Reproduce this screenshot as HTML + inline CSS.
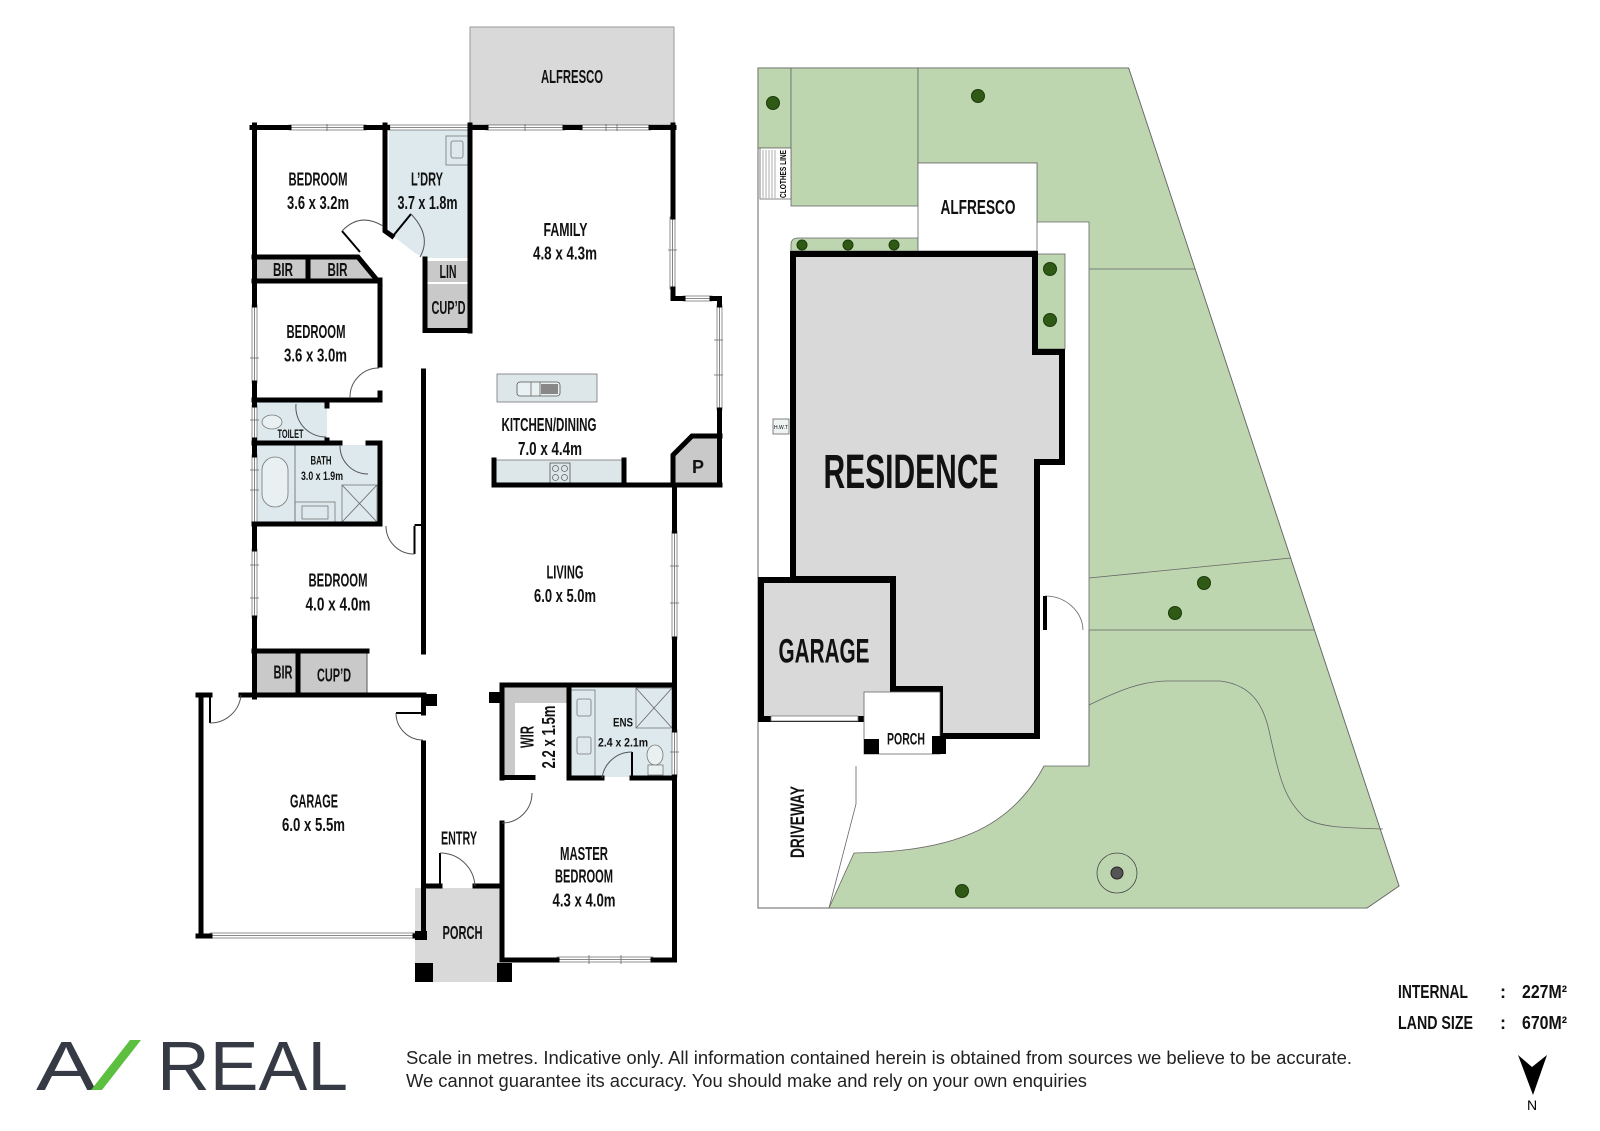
<!DOCTYPE html>
<html><head><meta charset="utf-8">
<style>
html,body{margin:0;padding:0;background:#fff;}
svg{display:block;}
.t{font-family:"Liberation Sans Narrow","Liberation Sans",sans-serif;font-weight:bold;font-size:18px;text-anchor:middle;fill:#111;}
.s{font-size:12px;}
.k{stroke:#000;stroke-width:5;stroke-linecap:square;fill:none;}
.th{stroke:#000;stroke-width:2;fill:none;}
.tn{stroke:#555;stroke-width:1;fill:none;}
.w{fill:#fff;stroke:#777;stroke-width:.8;}
.g{fill:#c9c9c9;}
.b{fill:#dde9ec;}
.ln{stroke:#666;stroke-width:.8;fill:none;}
.tr{fill:#2f5a16;stroke:#1d3a0c;stroke-width:1;}
</style></head>
<body>
<svg width="1600" height="1131" viewBox="0 0 1600 1131" xmlns="http://www.w3.org/2000/svg">

<!-- ============ FLOOR PLAN ============ -->
<rect x="470" y="27" width="204" height="98" fill="#d9d9d9" stroke="#999" stroke-width="1"/>
<polygon class="b" points="389,130 468,130 468,258 425,258 415,253 393,236 389,232"/>
<rect class="g" x="427" y="261" width="41" height="21"/>
<rect class="g" x="427" y="284" width="41" height="45"/>
<rect x="446" y="136" width="22" height="29" fill="#dde9ec" stroke="#777" stroke-width=".8"/>
<rect x="451" y="141" width="12" height="17" fill="none" stroke="#777" stroke-width=".8" rx="2"/>
<rect class="g" x="256" y="258" width="52" height="22"/>
<polygon class="g" points="308,258 358,258 376,280 308,280"/>
<rect class="b" x="257" y="402" width="70" height="40"/>
<rect class="b" x="257" y="445" width="121" height="77"/>
<ellipse cx="272" cy="422" rx="10" ry="7" fill="#e8f0f2" stroke="#777" stroke-width=".8"/>
<rect x="262" y="457" width="26" height="50" rx="13" fill="#e8f0f2" stroke="#777" stroke-width=".8"/>
<line x1="295" y1="445" x2="295" y2="522" class="ln"/>
<rect x="295" y="502" width="40" height="20" fill="none" stroke="#777" stroke-width=".8"/>
<rect x="302" y="506" width="26" height="13" fill="none" stroke="#777" stroke-width=".8"/>
<rect x="342" y="485" width="35" height="37" fill="none" stroke="#777" stroke-width=".8"/>
<path d="M342,485 L377,522 M377,485 L342,522" class="ln"/>
<rect class="g" x="256" y="652" width="42" height="42"/>
<rect class="g" x="300" y="652" width="67" height="42"/>
<line x1="367" y1="652" x2="367" y2="694" class="tn"/>
<rect x="497" y="374" width="100" height="28" fill="#dde6e8" stroke="#777" stroke-width=".8"/>
<rect x="517" y="382" width="43" height="14" rx="3" fill="#eaf1f2" stroke="#555" stroke-width=".8"/>
<line x1="531" y1="382" x2="531" y2="396" class="ln"/><line x1="540" y1="382" x2="540" y2="396" class="ln"/>
<rect x="541" y="384" width="17" height="10" fill="#888"/>
<rect x="494" y="460" width="130" height="23" fill="#dde6e8" stroke="#777" stroke-width=".8"/>
<rect x="550" y="463" width="20" height="20" fill="none" stroke="#555" stroke-width=".8"/>
<circle cx="555.5" cy="468.5" r="3" class="ln"/><circle cx="564.5" cy="468.5" r="3" class="ln"/>
<circle cx="555.5" cy="477.5" r="3" class="ln"/><circle cx="564.5" cy="477.5" r="3" class="ln"/>
<polygon class="g" points="673,455 692,436 720,436 720,485 673,485"/>
<rect class="g" x="502" y="685" width="67" height="92"/>
<rect x="515" y="703" width="52" height="74" fill="#fff"/>
<rect class="b" x="569" y="685" width="104" height="92"/>
<rect x="571" y="690" width="24" height="86" fill="#dde9ec" stroke="#777" stroke-width=".8"/>
<rect x="577" y="699" width="14" height="17" fill="none" stroke="#777" stroke-width=".8" rx="2"/>
<rect x="577" y="737" width="14" height="17" fill="none" stroke="#777" stroke-width=".8" rx="2"/>
<rect x="636" y="688" width="36" height="40" fill="none" stroke="#777" stroke-width=".8"/>
<path d="M636,688 L672,728 M672,688 L636,728" class="ln"/>
<ellipse cx="655" cy="755" rx="8" ry="10" fill="#e8f0f2" stroke="#777" stroke-width=".8"/>
<rect x="648" y="765" width="15" height="10" fill="#e8f0f2" stroke="#777" stroke-width=".8"/>
<rect x="415" y="888" width="85" height="94" fill="#d9d9d9"/>

<g class="w">
<rect x="289" y="125" width="77" height="5"/><rect x="388" y="125" width="82" height="5"/>
<rect x="486" y="125" width="79" height="5"/><rect x="580" y="125" width="71" height="5"/>
<rect x="252" y="305" width="5" height="78"/><rect x="252" y="405" width="5" height="35"/>
<rect x="252" y="455" width="5" height="69"/><rect x="252" y="549" width="5" height="69"/>
<rect x="670" y="217" width="5" height="72"/><rect x="683" y="296" width="29" height="5"/>
<rect x="717" y="305" width="5" height="105"/>
<rect x="672" y="531" width="5" height="108"/><rect x="672" y="730" width="5" height="47"/>
<rect x="557" y="957" width="96" height="5"/>
<rect x="210" y="933" width="205" height="5"/>
</g>
<g class="ln">
<path d="M289,127.5H366 M388,127.5H470 M486,127.5H565 M580,127.5H651 M254.5,305V383 M254.5,405V440 M254.5,455V524 M254.5,549V618 M672.5,217V289 M683,298.5H712 M719.5,305V410 M674.5,531V639 M674.5,730V777 M557,959.5H653 M210,935.5H415"/>
<path d="M327,124V131 M606,124V131 M617,124V131 M250,358h9 M250,420h9 M250,470h9 M250,490h9 M250,565h9 M250,598h9 M668,250h9 M714,340h9 M714,375h9 M670,566h9 M670,603h9 M670,752h9 M589,955v9 M621,955v9 M525,124v7"/>
</g>

<g class="k">
<path d="M252,127.5H289 M366,127.5H387.6"/>
<path d="M470,127.5H486 M565,127.5H580 M651,127.5H674"/>
<path d="M254.5,125V305 M254.5,383V405 M254.5,440V455 M254.5,524V549 M254.5,618V697"/>
<path d="M385,125V231 L392,236"/>
<path d="M470,125V331"/>
<path d="M425,259V330.5H470"/>
<path d="M254,257H358 L377,280"/>
<path d="M254,281H379"/>
<path d="M308,257V281"/>
<path d="M380,280V365 M380,393V400"/>
<path d="M254,400H380"/>
<path d="M327,400V406 M327,440V443"/>
<path d="M254,443H340 M368,443H380V524"/>
<path d="M254,524H380"/>
<path d="M423.5,371V652"/>
<path d="M254,651H367"/>
<path d="M298,651V694"/>
<path d="M673,125V217 M673,289V298.5H683 M712,298.5H719.5V305 M719.5,410V485"/>
<path d="M494,460V485H720 M624,460V485"/>
<path d="M673,485V455 L692,436H720"/>
<path d="M674.5,485V531 M674.5,639V730 M674.5,777V960"/>
<path d="M198,695H210 M241,695H424"/>
<path d="M201,695V936"/>
<path d="M198,936H210 M415,936H424"/>
<path d="M423.5,695V713 M423.5,743V936"/>
<path d="M423.5,886H440 M475,886H500"/>
<path d="M502,685H673"/>
<path d="M502,685V778 M502,823V960H557 M653,960H674"/>
<path d="M502,777.5H533"/>
<path d="M569,685V778"/>
<path d="M569,778H602 M632,778H673"/>
</g>
<rect x="426" y="694" width="11" height="12" fill="#000"/>
<rect x="489" y="692" width="13" height="11" fill="#000"/>
<rect x="415" y="963" width="18" height="19" fill="#000"/>
<rect x="497" y="963" width="15" height="19" fill="#000"/>
<rect x="415" y="931" width="12" height="9" fill="#000"/>

<g class="th">
<path d="M393,236 L411,214"/>
<path d="M342,231 L360,252"/>
<path d="M440,853V886"/>
<path d="M632,752V778"/>
<path d="M210,697V723"/>
<path d="M396,713H423"/>
<path d="M414.5,526V554 M414.5,525H423"/>
</g>
<g class="tn">
<path d="M411,214 Q432,236 420,257"/>
<path d="M342,231 Q360,212 383,226"/>
<path d="M350,398 A29,29 0 0,1 379,368"/>
<path d="M296,404 A30,30 0 0,0 326,437"/>
<path d="M340,446 A28,28 0 0,0 368,474"/>
<path d="M386,526 A28,28 0 0,0 414.5,554"/>
<path d="M210,723 A31,31 0 0,0 241,695"/>
<path d="M396,713 A27,27 0 0,0 423,740"/>
<path d="M440,853 A35,35 0 0,1 475,886"/>
<path d="M632,752 A30,30 0 0,0 602,778"/>
<path d="M502,823 A30,30 0 0,0 532,793"/>
</g>

<text class="t" x="572" y="83" textLength="62" lengthAdjust="spacingAndGlyphs">ALFRESCO</text>
<text class="t" x="318" y="185.5" textLength="59" lengthAdjust="spacingAndGlyphs">BEDROOM</text>
<text class="t" x="318" y="209" textLength="62" lengthAdjust="spacingAndGlyphs">3.6 x 3.2m</text>
<text class="t" x="427" y="185.5" textLength="32" lengthAdjust="spacingAndGlyphs">L’DRY</text>
<text class="t" x="427.5" y="209" textLength="60" lengthAdjust="spacingAndGlyphs">3.7 x 1.8m</text>
<text class="t" x="565.5" y="236" textLength="44" lengthAdjust="spacingAndGlyphs">FAMILY</text>
<text class="t" x="565" y="259.5" textLength="64" lengthAdjust="spacingAndGlyphs">4.8 x 4.3m</text>
<text class="t" x="283" y="276" textLength="20" lengthAdjust="spacingAndGlyphs">BIR</text>
<text class="t" x="337.5" y="276" textLength="20" lengthAdjust="spacingAndGlyphs">BIR</text>
<text class="t" x="448" y="278" textLength="17" lengthAdjust="spacingAndGlyphs">LIN</text>
<text class="t" x="448.5" y="314" textLength="34" lengthAdjust="spacingAndGlyphs">CUP’D</text>
<text class="t" x="316" y="338" textLength="59" lengthAdjust="spacingAndGlyphs">BEDROOM</text>
<text class="t" x="315.5" y="361.5" textLength="63" lengthAdjust="spacingAndGlyphs">3.6 x 3.0m</text>
<text class="t" x="549" y="431" textLength="95" lengthAdjust="spacingAndGlyphs">KITCHEN/DINING</text>
<text class="t" x="550" y="455" textLength="64" lengthAdjust="spacingAndGlyphs">7.0 x 4.4m</text>
<text class="t s" x="290.5" y="438" textLength="26" lengthAdjust="spacingAndGlyphs">TOILET</text>
<text class="t s" x="321" y="464.5" textLength="21" lengthAdjust="spacingAndGlyphs">BATH</text>
<text class="t s" x="322" y="480" textLength="42" lengthAdjust="spacingAndGlyphs">3.0 x 1.9m</text>
<text class="t" x="698" y="473">P</text>
<text class="t" x="338" y="586.5" textLength="59" lengthAdjust="spacingAndGlyphs">BEDROOM</text>
<text class="t" x="338" y="610.5" textLength="65" lengthAdjust="spacingAndGlyphs">4.0 x 4.0m</text>
<text class="t" x="565" y="578.5" textLength="37" lengthAdjust="spacingAndGlyphs">LIVING</text>
<text class="t" x="565" y="602" textLength="62" lengthAdjust="spacingAndGlyphs">6.0 x 5.0m</text>
<text class="t" x="283" y="678.5" textLength="19" lengthAdjust="spacingAndGlyphs">BIR</text>
<text class="t" x="334" y="681.5" textLength="34" lengthAdjust="spacingAndGlyphs">CUP’D</text>
<text class="t" x="314" y="807.5" textLength="48" lengthAdjust="spacingAndGlyphs">GARAGE</text>
<text class="t" x="313.5" y="831" textLength="63" lengthAdjust="spacingAndGlyphs">6.0 x 5.5m</text>
<text class="t" x="459" y="844.5" textLength="36" lengthAdjust="spacingAndGlyphs">ENTRY</text>
<text class="t" x="462.5" y="939" textLength="40" lengthAdjust="spacingAndGlyphs">PORCH</text>
<text class="t" x="584" y="860" textLength="48" lengthAdjust="spacingAndGlyphs">MASTER</text>
<text class="t" x="584" y="882.5" textLength="58" lengthAdjust="spacingAndGlyphs">BEDROOM</text>
<text class="t" x="584" y="906.5" textLength="63" lengthAdjust="spacingAndGlyphs">4.3 x 4.0m</text>
<text class="t" x="0" y="0" transform="translate(533.5,737) rotate(-90)" textLength="22" lengthAdjust="spacingAndGlyphs">WIR</text>
<text class="t" x="0" y="0" transform="translate(555,737) rotate(-90)" textLength="63" lengthAdjust="spacingAndGlyphs">2.2 x 1.5m</text>
<text class="t s" x="623" y="726.5" textLength="20" lengthAdjust="spacingAndGlyphs">ENS</text>
<text class="t s" x="623" y="746.5" textLength="50" lengthAdjust="spacingAndGlyphs">2.4 x 2.1m</text>

<!-- ============ SITE PLAN ============ -->
<polygon points="758,68 1128.6,68 1399,886 1367,908 758,908" fill="#fff" stroke="#666" stroke-width="1"/>
<g fill="#bed6b0" stroke="#666" stroke-width=".8">
<rect x="758" y="68" width="33" height="80"/>
<rect x="791" y="68" width="127" height="138"/>
<path d="M918,68 L1128.6,68 L1399,886 L1367,908 L829,908 L854,853 C950,852 1010,830 1044,766 L1089,766 L1089,222 L1037,222 L1037,163 L918,163 Z"/>
<path d="M798,238 H918 V251 H791 V245 Q791,238 798,238 Z"/>
<rect x="1037" y="254" width="28" height="95"/>
</g>
<rect x="918" y="163" width="119" height="88" fill="#fff" stroke="#666" stroke-width=".8"/>
<g class="ln">
<path d="M1089,269 H1195 M1089,578 L1291,558 M1089,630 H1314"/>
<path d="M1089,705 C1120,690 1140,682 1165,681 L1220,681 C1255,685 1265,710 1270,735 C1280,780 1285,800 1305,818 C1320,828 1350,828 1383,829"/>
<path d="M856,766 V804 L829,908"/>
<path d="M1045,596 A38,35 0 0,1 1083,630"/>
<path d="M1089,630 V766"/>
</g>
<rect x="760" y="148" width="31" height="51" fill="#fff" stroke="#666" stroke-width=".8"/>
<path d="M763,150V198 M766,150V198 M769,150V198 M772,150V198 M775,150V198" stroke="#999" stroke-width=".8"/>
<text x="0" y="0" transform="translate(786,174) rotate(-90)" font-family="Liberation Sans Narrow,Liberation Sans,sans-serif" font-weight="bold" font-size="8" text-anchor="middle" textLength="48" lengthAdjust="spacingAndGlyphs">CLOTHES LINE</text>
<rect x="773" y="419" width="16" height="15" fill="#eef3f3" stroke="#666" stroke-width=".8"/>
<text x="781" y="429" font-family="Liberation Sans,sans-serif" font-size="5" text-anchor="middle">H.W.T</text>
<polygon points="793,254 1035,254 1035,352 1062,352 1062,462 1037,462 1037,736 940,736 940,689 893,689 893,579 793,579" fill="#d9d9d9" stroke="#000" stroke-width="6" stroke-linejoin="miter"/>
<rect x="761" y="580" width="132" height="139" fill="#d9d9d9" stroke="#000" stroke-width="6"/>
<rect x="771" y="716" width="87" height="5" fill="#fff" stroke="#777" stroke-width=".8"/>
<rect x="864" y="692" width="76" height="62" fill="#fff" stroke="#666" stroke-width=".8"/>
<rect x="864" y="739" width="15" height="15" fill="#000"/>
<rect x="932" y="736" width="14" height="18" fill="#000"/>
<rect x="1043" y="596" width="4" height="34" fill="#000"/>
<text class="t" x="911" y="488" style="font-size:48px" textLength="175" lengthAdjust="spacingAndGlyphs">RESIDENCE</text>
<text class="t" x="824" y="662.5" style="font-size:34px" textLength="91" lengthAdjust="spacingAndGlyphs">GARAGE</text>
<text class="t" x="978" y="214" style="font-size:20px" textLength="75" lengthAdjust="spacingAndGlyphs">ALFRESCO</text>
<text class="t" x="906" y="744.5" style="font-size:17px" textLength="38" lengthAdjust="spacingAndGlyphs">PORCH</text>
<text class="t" x="0" y="0" style="font-size:19px" transform="translate(804,822) rotate(-90)" textLength="72" lengthAdjust="spacingAndGlyphs">DRIVEWAY</text>
<g class="tr">
<circle cx="773" cy="103" r="6.5"/><circle cx="978" cy="96" r="6.5"/>
<circle cx="802" cy="245" r="5"/><circle cx="848" cy="245" r="5"/><circle cx="894" cy="245" r="5"/>
<circle cx="1050" cy="269" r="6.5"/><circle cx="1050" cy="320" r="6.5"/>
<circle cx="1204" cy="583" r="6.5"/><circle cx="1175" cy="613" r="6.5"/>
<circle cx="962" cy="891" r="6.5"/>
</g>
<circle cx="1117" cy="873" r="20" fill="none" stroke="#444" stroke-width=".8"/>
<circle cx="1117" cy="873" r="6" fill="#555" stroke="#222" stroke-width="1"/>

<!-- ============ FOOTER ============ -->
<text x="36" y="1090" font-family="Liberation Sans,sans-serif" font-size="70" fill="#353a45" textLength="60" lengthAdjust="spacingAndGlyphs">A</text>
<polygon points="91,1090 102,1090 141,1040 130,1040" fill="#5cbf3f"/>
<text x="157" y="1090" font-family="Liberation Sans,sans-serif" font-size="70" fill="#353a45" textLength="191" lengthAdjust="spacingAndGlyphs">REAL</text>
<text x="406" y="1064" font-family="Liberation Sans,sans-serif" font-size="18" fill="#222" textLength="946" lengthAdjust="spacingAndGlyphs">Scale in metres. Indicative only. All information contained herein is obtained from sources we believe to be accurate.</text>
<text x="406" y="1087" font-family="Liberation Sans,sans-serif" font-size="18" fill="#222" textLength="681" lengthAdjust="spacingAndGlyphs">We cannot guarantee its accuracy. You should make and rely on your own enquiries</text>
<g font-family="Liberation Sans Narrow,Liberation Sans,sans-serif" font-weight="bold" font-size="18" fill="#111">
<text x="1398" y="998" textLength="70" lengthAdjust="spacingAndGlyphs">INTERNAL</text>
<text x="1500" y="998">:</text>
<text x="1522" y="998" textLength="45" lengthAdjust="spacingAndGlyphs">227M²</text>
<text x="1398" y="1029" textLength="75" lengthAdjust="spacingAndGlyphs">LAND SIZE</text>
<text x="1500" y="1029">:</text>
<text x="1522" y="1029" textLength="45" lengthAdjust="spacingAndGlyphs">670M²</text>
</g>
<polygon points="1518,1055 1532,1067 1547,1055 1533,1095" fill="#000"/>
<text x="1532" y="1110" font-family="Liberation Sans Narrow,Liberation Sans,sans-serif" font-size="14" text-anchor="middle">N</text>
</svg>
</body></html>
